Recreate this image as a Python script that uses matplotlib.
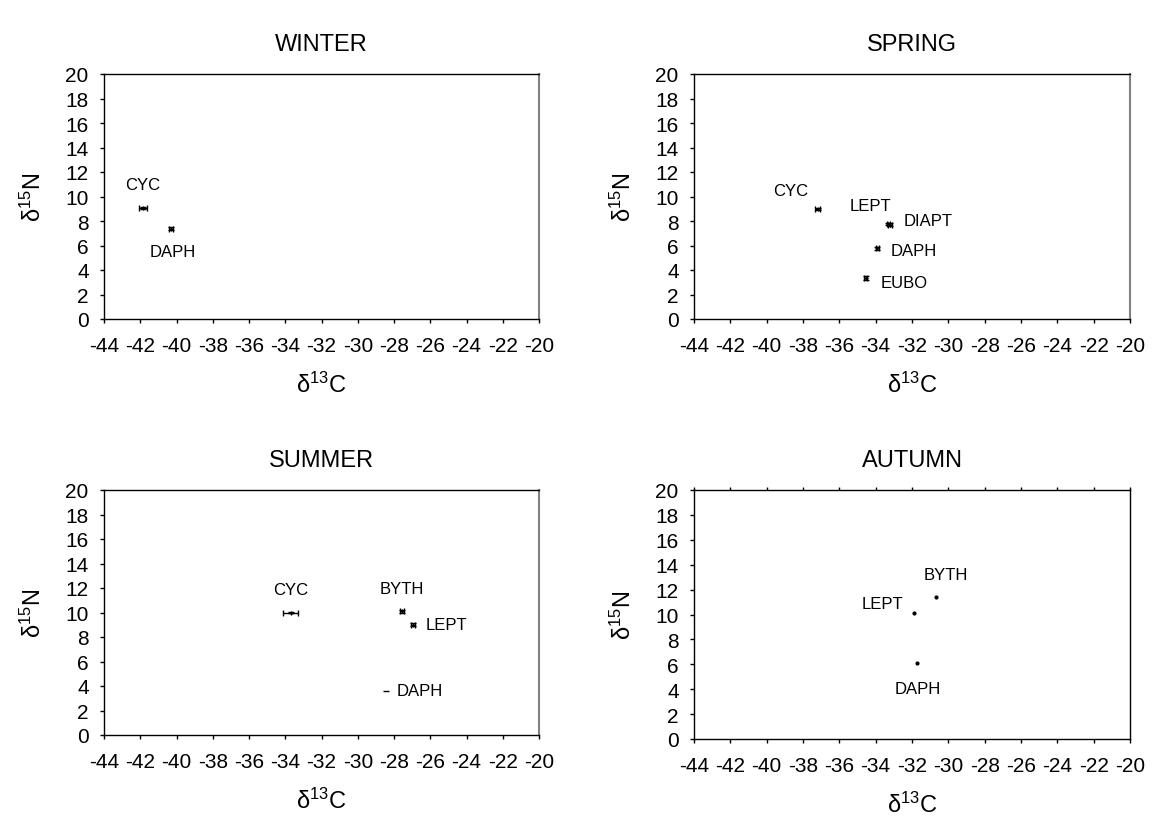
import matplotlib.pyplot as plt

plt.rcParams['font.family'] = ['Liberation Sans', 'DejaVu Sans']
plt.rcParams['mathtext.fontset'] = 'custom'
plt.rcParams['mathtext.rm'] = 'Liberation Sans'
plt.rcParams['mathtext.it'] = 'Liberation Sans'

# dados: d13C, d15N, erros e posicao dos rotulos
winter_taxa = ['CYC', 'DAPH']
winter_c = [-41.85, -40.3]
winter_n = [9.05, 7.35]
winter_xerr = [0.2, 0.1]
winter_yerr = [0.1, 0.12]
winter_lab_x = [-41.85, -40.2]
winter_lab_y = [11.0, 5.55]

spring_taxa = ['CYC', 'LEPT', 'DIAPT', 'DAPH', 'EUBO']
spring_c = [-37.2, -33.3, -33.2, -33.9, -34.55]
spring_n = [8.98, 7.75, 7.7, 5.77, 3.35]
spring_xerr = [0.15, 0.1, 0.1, 0.08, 0.1]
spring_yerr = [0.1, 0.1, 0.12, 0.12, 0.15]
spring_lab_x = [-38.7, -34.3, -32.45, -33.15, -33.7]
spring_lab_y = [10.5, 9.25, 8.0, 5.6, 3.0]

summer_taxa = ['CYC', 'BYTH', 'LEPT', 'DAPH']
summer_c = [-33.7, -27.55, -26.95, -28.45]
summer_n = [10.0, 10.1, 9.0, 3.62]
summer_xerr = [0.4, 0.1, 0.1, 0.18]
summer_yerr = [0.05, 0.12, 0.12, 0.0]
summer_lab_x = [-33.7, -27.55, -26.25, -27.85]
summer_lab_y = [11.9, 11.97, 8.98, 3.62]

autumn_taxa = ['BYTH', 'LEPT', 'DAPH']
autumn_c = [-30.67, -31.87, -31.7]
autumn_n = [11.38, 10.1, 6.1]
autumn_lab_x = [-30.15, -33.6, -31.7]
autumn_lab_y = [13.25, 10.9, 4.05]

fig = plt.figure(figsize=(11.55, 8.2), dpi=100)
W, H = 1155, 820
# posicoes dos eixos em pixels (esquerda, topo, direita, base)
boxes = [(104, 75, 539, 320), (694, 75, 1130, 320),
         (104, 491, 539, 736), (694, 491, 1130, 740)]
axs = []
for (l, t, r, b) in boxes:
    axs.append(fig.add_axes([l / W, 1 - b / H, (r - l) / W, (b - t) / H]))

paineis = [
    ('WINTER', winter_taxa, winter_c, winter_n, winter_xerr, winter_yerr, winter_lab_x, winter_lab_y,
     ['center', 'center']),
    ('SPRING', spring_taxa, spring_c, spring_n, spring_xerr, spring_yerr, spring_lab_x, spring_lab_y,
     ['center', 'center', 'left', 'left', 'left']),
    ('SUMMER', summer_taxa, summer_c, summer_n, summer_xerr, summer_yerr, summer_lab_x, summer_lab_y,
     ['center', 'center', 'left', 'left']),
    ('AUTUMN', autumn_taxa, autumn_c, autumn_n, None, None, autumn_lab_x, autumn_lab_y,
     ['center', 'center', 'center']),
]

xt = list(range(-44, -19, 2))
for ax, (titulo, taxa, c, n, xe, ye, lx, ly, ha) in zip(axs, paineis):
    if xe is None:
        ax.plot(c, n, 'k.', markersize=4)
    else:
        # barras com capa so onde ha erro vertical; o DAPH do verao fica como traco
        caps = [2.5 if e > 0 else 0 for e in ye]
        for xi, yi, ex, ey, cp in zip(c, n, xe, ye, caps):
            ax.errorbar(xi, yi, xerr=ex, yerr=ey if ey > 0 else None, fmt='none',
                        ecolor='black', elinewidth=1, capsize=cp, capthick=1)
            if ey > 0:
                ax.plot(xi, yi, 'k+', markersize=3, markeredgewidth=1)
    for txt, x, y, h in zip(taxa, lx, ly, ha):
        ax.text(x, y, txt, fontsize=12, ha=h, va='center')
    ax.set_xlim(-44, -20)
    ax.set_ylim(0, 20)
    ax.set_xticks(xt)
    ax.set_yticks(range(0, 21, 2))
    ax.set_xticklabels([str(v) for v in xt])
    ax.tick_params(direction='out', length=3, labelsize=15, width=1)
    ax.tick_params(axis='x', pad=9)
    ax.tick_params(axis='y', pad=8)
    ax.set_title(titulo, fontsize=17, pad=17)
    ax.set_xlabel(r'δ$^{13}$C', fontsize=17, labelpad=12)
    ax.set_ylabel(r'δ$^{15}$N', fontsize=17, labelpad=14)
    for s in ax.spines.values():
        s.set_linewidth(1)
    if titulo != 'AUTUMN':
        ax.spines['right'].set_color('#808080')
        ax.spines['right'].set_linewidth(1.5)
    else:
        ax.tick_params(axis='x', top=True)
        ax.xaxis.set_tick_params(which='major', top=True)
        for tk in ax.xaxis.get_major_ticks():
            tk.tick2line.set_markersize(2)

fig.savefig('out.png', dpi=100)
